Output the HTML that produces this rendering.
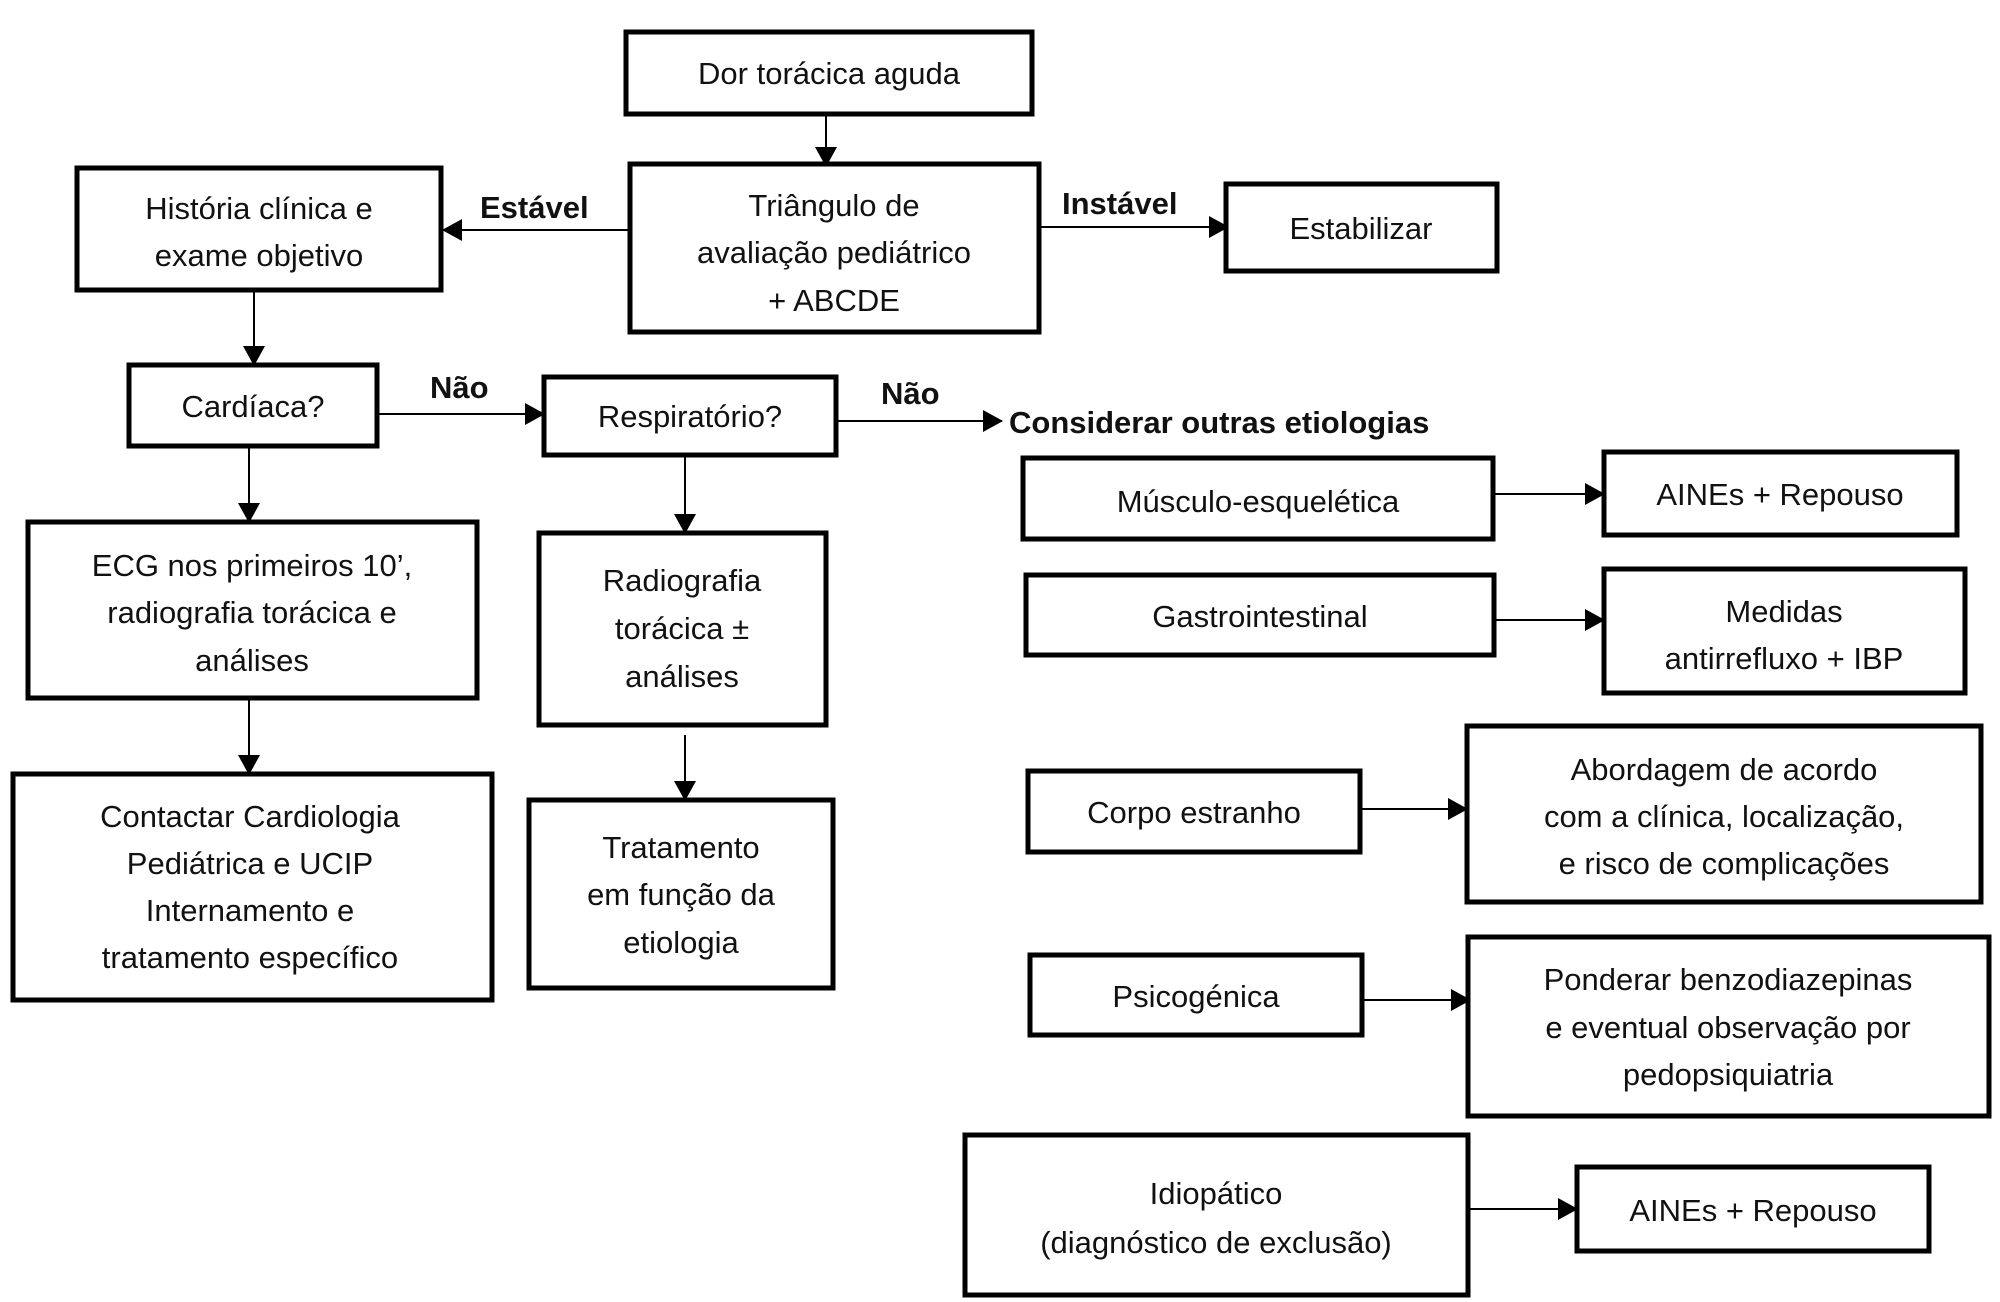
<!DOCTYPE html>
<html><head><meta charset="utf-8"><style>
html,body{margin:0;padding:0;background:#fff}
svg{display:block}
text{font-family:"Liberation Sans",sans-serif;font-size:31px;fill:#111;text-anchor:middle}
.b{font-weight:bold;text-anchor:start}
rect{fill:#fff;stroke:#000;stroke-width:5}
line{stroke:#000;stroke-width:2}
</style></head><body>
<svg width="2000" height="1302" viewBox="0 0 2000 1302" xmlns="http://www.w3.org/2000/svg">
<defs><marker id="a" markerWidth="10" markerHeight="10" refX="9" refY="5" orient="auto" markerUnits="userSpaceOnUse" viewBox="0 0 10 10"><path d="M0,0 L10,5 L0,10z" fill="#000"/></marker>
<marker id="A" markerWidth="20" markerHeight="22" refX="19" refY="11" orient="auto" markerUnits="userSpaceOnUse" viewBox="0 0 20 22"><path d="M0,0 L20,11 L0,22z" fill="#000"/></marker></defs>

<!-- connectors -->
<line x1="826" y1="114" x2="826" y2="166" marker-end="url(#A)"/>
<line x1="630" y1="230" x2="443" y2="230" marker-end="url(#A)"/>
<line x1="1039" y1="227" x2="1228" y2="227" marker-end="url(#A)"/>
<line x1="254" y1="290" x2="254" y2="365" marker-end="url(#A)"/>
<line x1="377" y1="414" x2="544" y2="414" marker-end="url(#A)"/>
<line x1="836" y1="421" x2="1002" y2="421" marker-end="url(#A)"/>
<line x1="249" y1="446" x2="249" y2="522" marker-end="url(#A)"/>
<line x1="685" y1="455" x2="685" y2="533" marker-end="url(#A)"/>
<line x1="249" y1="698" x2="249" y2="774" marker-end="url(#A)"/>
<line x1="685" y1="735" x2="685" y2="800" marker-end="url(#A)"/>
<line x1="1493" y1="494" x2="1604" y2="494" marker-end="url(#A)"/>
<line x1="1494" y1="620" x2="1604" y2="620" marker-end="url(#A)"/>
<line x1="1360" y1="809" x2="1467" y2="809" marker-end="url(#A)"/>
<line x1="1362" y1="1000" x2="1470" y2="1000" marker-end="url(#A)"/>
<line x1="1468" y1="1209" x2="1577" y2="1209" marker-end="url(#A)"/>

<!-- boxes -->
<rect x="626" y="32" width="406" height="82"/>
<text x="829" y="84">Dor torácica aguda</text>
<rect x="630" y="164" width="409" height="168"/>
<text x="834" y="216">Triângulo de</text>
<text x="834" y="263">avaliação pediátrico</text>
<text x="834" y="311">+ ABCDE</text>
<rect x="77" y="168" width="364" height="122"/>
<text x="259" y="219">História clínica e</text>
<text x="259" y="266">exame objetivo</text>
<rect x="1226" y="184" width="271" height="87"/>
<text x="1361" y="239">Estabilizar</text>
<rect x="129" y="365" width="248" height="81"/>
<text x="253" y="417">Cardíaca?</text>
<rect x="544" y="377" width="292" height="78"/>
<text x="690" y="427">Respiratório?</text>
<rect x="28" y="522" width="449" height="176"/>
<text x="252" y="576">ECG nos primeiros 10’,</text>
<text x="252" y="623">radiografia torácica e</text>
<text x="252" y="671">análises</text>
<rect x="539" y="533" width="287" height="192"/>
<text x="682" y="591">Radiografia</text>
<text x="682" y="639">torácica ±</text>
<text x="682" y="687">análises</text>
<rect x="13" y="774" width="479" height="226"/>
<text x="250" y="827">Contactar Cardiologia</text>
<text x="250" y="874">Pediátrica e UCIP</text>
<text x="250" y="921">Internamento e</text>
<text x="250" y="968">tratamento específico</text>
<rect x="529" y="800" width="304" height="188"/>
<text x="681" y="858">Tratamento</text>
<text x="681" y="905">em função da</text>
<text x="681" y="953">etiologia</text>

<text class="b" x="1009" y="433">Considerar outras etiologias</text>
<rect x="1023" y="458" width="470" height="81"/>
<text x="1258" y="512">Músculo-esquelética</text>
<rect x="1604" y="452" width="353" height="83"/>
<text x="1780" y="505">AINEs + Repouso</text>
<rect x="1026" y="575" width="468" height="80"/>
<text x="1260" y="627">Gastrointestinal</text>
<rect x="1604" y="569" width="361" height="124"/>
<text x="1784" y="622">Medidas</text>
<text x="1784" y="669">antirrefluxo + IBP</text>
<rect x="1028" y="771" width="332" height="81"/>
<text x="1194" y="823">Corpo estranho</text>
<rect x="1467" y="726" width="514" height="176"/>
<text x="1724" y="780">Abordagem de acordo</text>
<text x="1724" y="827">com a clínica, localização,</text>
<text x="1724" y="874">e risco de complicações</text>
<rect x="1030" y="955" width="332" height="80"/>
<text x="1196" y="1007">Psicogénica</text>
<rect x="1468" y="937" width="521" height="179"/>
<text x="1728" y="990">Ponderar benzodiazepinas</text>
<text x="1728" y="1038">e eventual observação por</text>
<text x="1728" y="1085">pedopsiquiatria</text>
<rect x="965" y="1135" width="503" height="160"/>
<text x="1216" y="1204">Idiopático</text>
<text x="1216" y="1253">(diagnóstico de exclusão)</text>
<rect x="1577" y="1167" width="352" height="84"/>
<text x="1753" y="1221">AINEs + Repouso</text>

<!-- edge labels -->
<text class="b" x="480" y="218">Estável</text>
<text class="b" x="1062" y="214">Instável</text>
<text class="b" x="430" y="398">Não</text>
<text class="b" x="881" y="404">Não</text>
</svg>
</body></html>
